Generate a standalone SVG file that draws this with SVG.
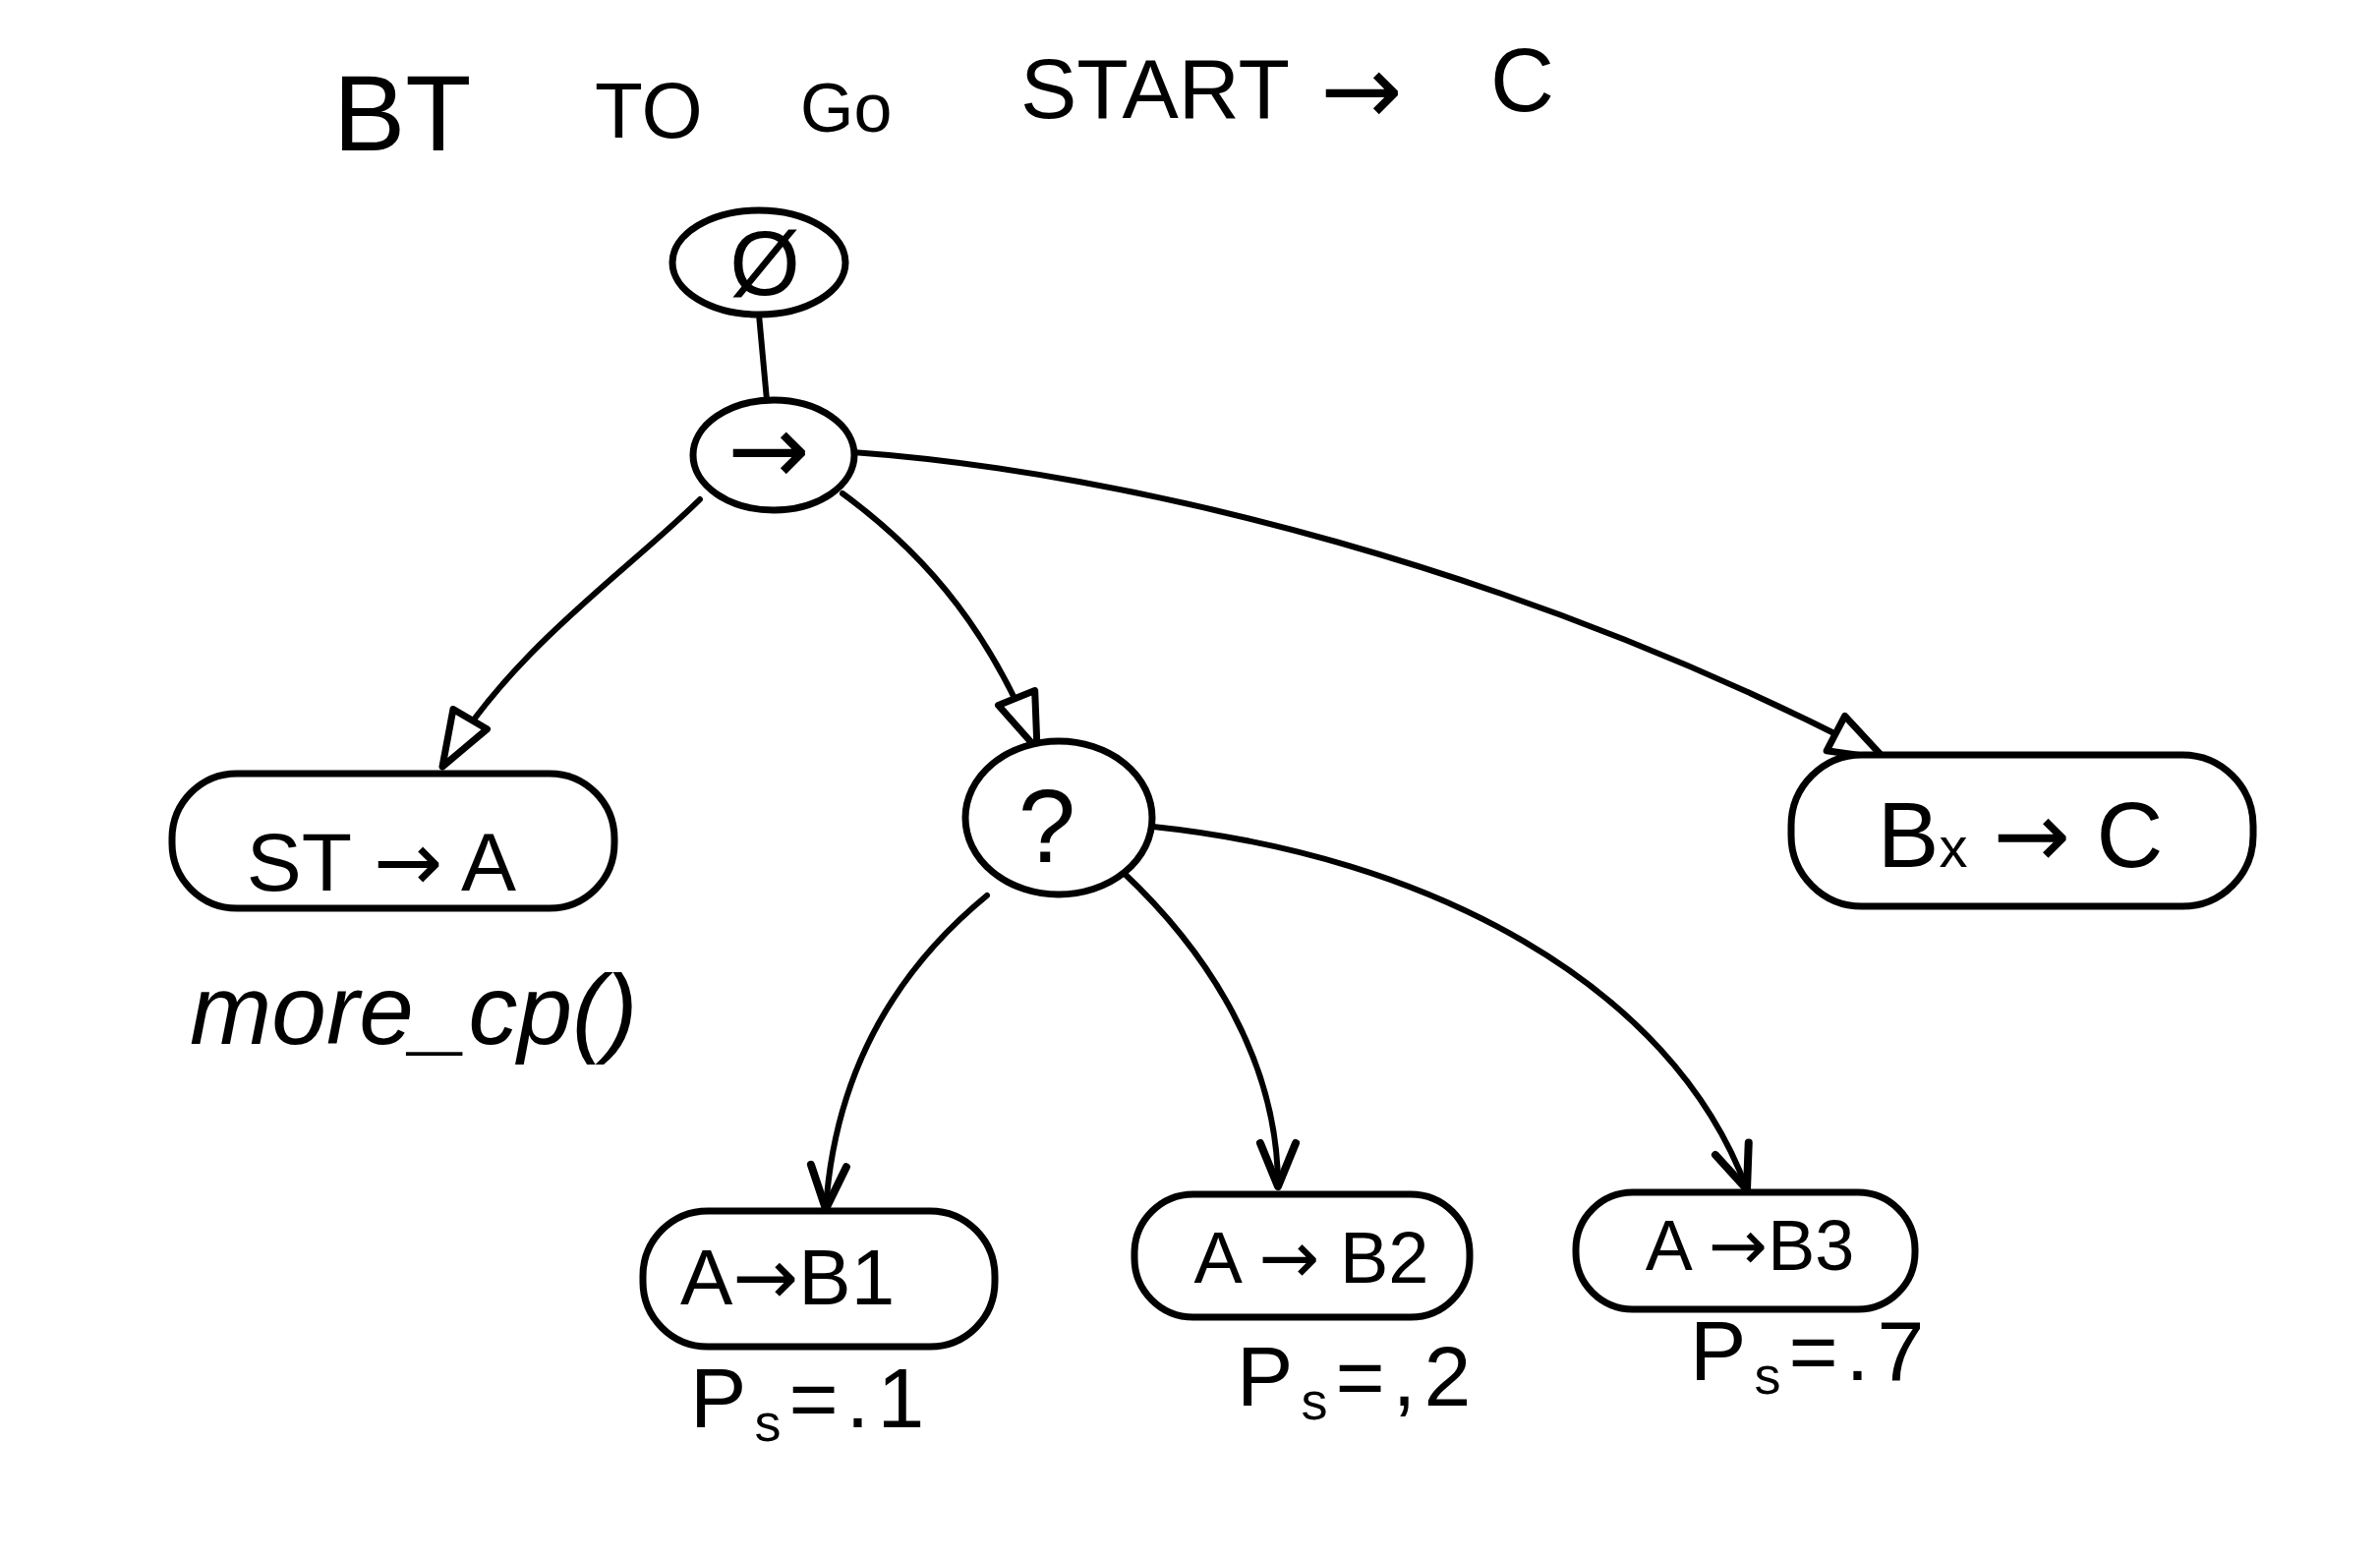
<svg xmlns="http://www.w3.org/2000/svg" width="2421" height="1584" viewBox="0 0 2421 1584">
<defs>
<style>
.shape{fill:#fff;stroke:#000;stroke-width:7;stroke-linejoin:round}
.edge{fill:none;stroke:#000;stroke-width:6;stroke-linecap:round}
.t{font-family:"Liberation Sans","DejaVu Sans",sans-serif;fill:#000}
.c{text-anchor:middle}
.ar{font-family:"DejaVu Sans",sans-serif}
</style>
<marker id="tri" markerUnits="userSpaceOnUse" markerWidth="70" markerHeight="52" refX="60" refY="24" orient="auto">
<path d="M4,4 L60,24 L4,44 Z" fill="#fff" stroke="#000" stroke-width="7" stroke-linejoin="round"/>
</marker>
<marker id="vee" markerUnits="userSpaceOnUse" markerWidth="60" markerHeight="52" refX="50" refY="24" orient="auto">
<path d="M6,6 L50,24 L6,42" fill="none" stroke="#000" stroke-width="8" stroke-linecap="round" stroke-linejoin="round"/>
</marker>
</defs>
<rect width="2421" height="1584" fill="#fff"/>
<g id="title">
<text class="t"><tspan x="339" y="153" font-size="110">BT</tspan><tspan x="605" y="140" font-size="80">TO</tspan><tspan x="814" y="134" font-size="70">Go</tspan><tspan x="1038" y="120" font-size="86">START</tspan><tspan class="ar" x="1343" y="126" font-size="100">→</tspan><tspan x="1516" y="113" font-size="90">C</tspan></text>
</g>
<g id="connectors">
<line class="edge" x1="772" y1="320" x2="780" y2="407"/>
<path class="edge" d="M712 508 C640 580 520 660 450 780" marker-end="url(#tri)"/>
<path class="edge" d="M857 502 C950 570 1010 650 1055 762" marker-end="url(#tri)"/>
<path class="edge" d="M867 460 C1150 480 1550 580 1917 772" marker-end="url(#tri)"/>
<path class="edge" d="M1004 911 C920 980 850 1080 840 1230" marker-end="url(#vee)"/>
<path class="edge" d="M1143 888 C1230 970 1300 1080 1300 1207" marker-end="url(#vee)"/>
<path class="edge" d="M1173 841 C1450 870 1700 1000 1777 1210" marker-end="url(#vee)"/>
</g>
<g id="root">
<ellipse class="shape" cx="772" cy="267" rx="88" ry="53"/>
<text class="t c" x="778" y="300" font-size="92">Ø</text>
</g>
<g id="sequence">
<ellipse class="shape" cx="787" cy="463" rx="82" ry="56"/>
<text class="t c ar" x="782" y="492" font-size="100">→</text>
</g>
<g id="fallback">
<ellipse class="shape" cx="1077" cy="832" rx="95" ry="78"/>
<text class="t c" x="1065" y="877" font-size="105">?</text>
</g>
<g id="st-a">
<rect class="shape" x="175" y="787" width="450" height="137" rx="66"/>
<text class="t c" x="388" y="906" font-size="84">ST <tspan class="ar">→</tspan> A</text>
<text class="t" x="193" y="1062" font-size="100" font-style="italic">more_cp()</text>
</g>
<g id="bx-c">
<rect class="shape" x="1822" y="768" width="470" height="154" rx="72"/>
<text class="t c" x="2055" y="882" font-size="94">B<tspan font-size="58">x</tspan> <tspan class="ar">→</tspan> C</text>
</g>
<g id="a-b1">
<rect class="shape" x="654" y="1232" width="358" height="138" rx="66"/>
<text class="t c" x="801" y="1327" font-size="80">A<tspan class="ar">→</tspan>B1</text>
<text class="t" x="702" y="1452" font-size="86" letter-spacing="8">P<tspan font-size="54" dy="14">s</tspan><tspan dy="-14">=.1</tspan></text>
</g>
<g id="a-b2">
<rect class="shape" x="1154" y="1215" width="341" height="125" rx="60"/>
<text class="t c" x="1334" y="1305" font-size="74">A <tspan class="ar">→</tspan> B2</text>
<text class="t" x="1258" y="1430" font-size="86" letter-spacing="8">P<tspan font-size="54" dy="14">s</tspan><tspan dy="-14">=,2</tspan></text>
</g>
<g id="a-b3">
<rect class="shape" x="1603" y="1213" width="345" height="119" rx="58"/>
<text class="t c" x="1780" y="1292" font-size="72">A <tspan class="ar">→</tspan>B3</text>
<text class="t" x="1719" y="1404" font-size="86" letter-spacing="8">P<tspan font-size="54" dy="14">s</tspan><tspan dy="-14">=.7</tspan></text>
</g>
</svg>
